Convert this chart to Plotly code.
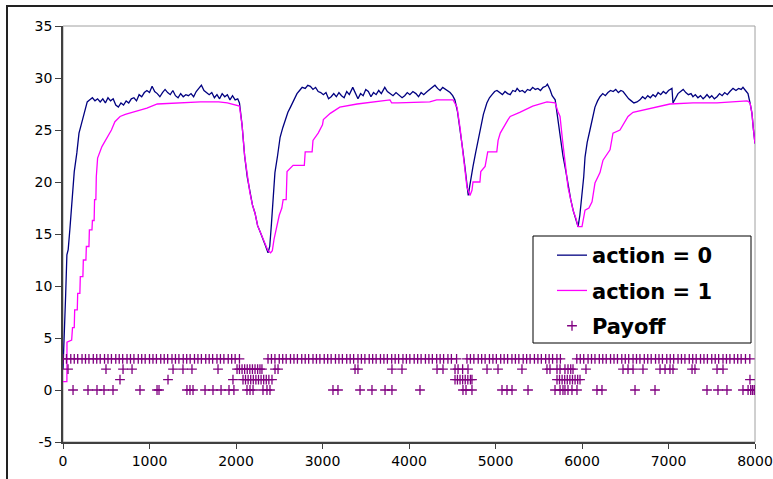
import plotly.graph_objects as go

# ---------------- data ----------------
act0_x = [0, 15, 30, 45, 60, 80, 100, 115, 130, 160, 185, 210, 235, 255, 280, 310, 340, 370, 400, 430, 460, 490,
          520, 550, 580, 610, 640, 670, 700, 730, 760, 790, 820, 850, 880, 910, 940, 970, 1000, 1030, 1060, 1090,
          1120, 1150, 1180, 1210, 1240, 1270, 1300, 1330, 1360, 1390, 1420, 1450, 1480, 1510, 1540, 1570, 1600,
          1630, 1660, 1690, 1720, 1750, 1780, 1810, 1840, 1870, 1900, 1930, 1960, 1990, 2020, 2040,
          2070, 2100, 2130, 2160, 2190, 2220, 2250, 2280, 2310, 2340, 2370, 2390, 2410, 2430, 2450, 2480, 2510,
          2540, 2570, 2600, 2630, 2670, 2705, 2735, 2765, 2800, 2830, 2860, 2890, 2920, 2950, 2980, 3010, 3040,
          3070, 3100, 3130, 3160, 3190, 3220, 3250, 3280, 3310, 3350, 3380, 3410, 3440, 3470, 3500, 3530, 3560,
          3590, 3620, 3650, 3680, 3720, 3750, 3780, 3815, 3850, 3880, 3920, 3950, 3980, 4010, 4045, 4080, 4110,
          4140, 4170, 4210, 4240, 4270, 4300, 4330, 4360, 4390, 4420, 4450, 4475, 4505, 4530, 4560, 4590, 4620,
          4647, 4670, 4685, 4700, 4720, 4740, 4770, 4800, 4830, 4860, 4900, 4930, 4960, 4990, 5017, 5050, 5080,
          5110, 5140, 5170, 5200, 5230, 5250, 5280, 5310, 5340, 5370, 5400, 5430, 5460, 5490, 5520, 5550, 5580,
          5600, 5630, 5655, 5690, 5720, 5750, 5780, 5810, 5840, 5870, 5900, 5930, 5955, 5975, 6000, 6020, 6035,
          6060, 6092, 6120, 6150, 6180, 6208, 6240, 6270, 6300, 6330, 6360, 6390, 6420, 6450, 6475, 6510, 6540,
          6570, 6600, 6636, 6670, 6700, 6730, 6760, 6790, 6821, 6850, 6880, 6910, 6940, 6970, 7000, 7040, 7052,
          7080, 7110, 7140, 7170, 7200, 7230, 7260, 7283, 7310, 7340, 7370, 7400, 7425, 7445, 7475, 7500, 7530,
          7561, 7590, 7620, 7650, 7680, 7710, 7746, 7780, 7810, 7840, 7861, 7890, 7919, 7945, 7965, 7980, 8000]
act0_y = [2.0, 5.0, 9.0, 13.0, 13.5, 15.5, 17.5, 19.0, 21.0, 22.8, 24.7, 25.5, 26.3, 27.0, 27.7, 27.9, 28.1, 27.8,
          28.0, 27.7, 28.0, 27.6, 28.1, 27.8, 28.0, 27.4, 27.2, 27.6, 27.4, 27.8, 27.6, 28.0, 28.1, 27.8, 28.4,
          28.2, 28.6, 28.8, 28.6, 29.2, 28.7, 28.5, 28.2, 28.6, 28.9, 28.6, 28.4, 28.8, 28.3, 28.1, 28.5, 28.2,
          28.4, 28.3, 28.5, 28.2, 28.7, 29.0, 29.3, 28.8, 28.6, 28.4, 28.6, 28.1, 28.4, 28.0, 28.5, 28.2, 28.4,
          27.9, 28.3, 27.9, 28.0, 27.6,
          25.5, 22.5, 20.5, 19.0, 17.8, 17.0, 15.8, 15.2, 14.6, 13.9, 13.2, 13.8, 16.0, 18.3, 20.9, 22.5, 24.3,
          25.2, 26.0, 26.7, 27.2, 27.9, 28.5, 28.8, 29.1, 29.0, 29.3, 29.2, 28.9, 29.1, 28.7, 28.6, 28.4, 28.6,
          28.0, 28.2, 28.5, 28.2, 28.6, 28.3, 28.1, 28.7, 28.4, 29.1, 28.6, 28.0, 28.5, 28.3, 28.9, 28.7, 28.2,
          28.6, 28.4, 28.8, 28.5, 29.1, 28.7, 28.5, 28.3, 28.6, 28.4, 28.1, 28.3, 28.6, 28.4, 28.7, 28.5, 28.2,
          28.6, 28.4, 28.7, 28.9, 29.1, 29.3, 29.0, 28.8, 29.1, 28.9, 28.7, 28.6, 28.3, 27.9, 26.8, 25.2, 23.2,
          21.4, 19.5, 18.7, 19.5, 20.6, 21.5, 22.8, 24.0, 25.2, 26.5, 27.6, 28.1, 28.4, 28.7, 28.8, 28.6, 28.4,
          28.7, 28.5, 28.4, 28.8, 28.7, 29.0, 28.7, 28.8, 28.6, 28.9, 28.8, 29.1, 28.9, 29.0, 28.8, 29.1, 29.2,
          29.4, 28.9, 28.3, 27.9, 26.0, 24.0, 22.5, 21.2, 19.5, 18.3, 17.2, 16.4, 15.7, 16.8, 18.6, 20.5, 22.4,
          23.8, 25.0, 26.2, 27.2, 27.8, 28.2, 28.5, 28.3, 28.6, 28.8, 28.7, 28.9, 28.6, 28.8, 28.7, 28.3, 28.0,
          27.8, 27.6, 27.7, 27.9, 28.2, 28.0, 28.3, 28.1, 28.4, 28.2, 28.6, 28.4, 28.7, 28.5, 28.8, 29.0, 27.6,
          28.1, 28.5, 28.7, 28.9, 28.6, 28.4, 28.5, 28.2, 28.4, 28.1, 28.3, 28.0, 28.2, 28.4, 28.1, 28.3, 28.0,
          28.2, 28.5, 28.3, 28.6, 28.4, 28.7, 29.0, 28.8, 29.0, 28.9, 29.1, 28.8, 28.5, 27.5, 26.6, 25.2, 23.7]

act1_x = [0, 45, 46, 100, 110, 130, 135, 165, 170, 195, 200, 230, 235, 265, 270, 300, 305, 335, 340, 360, 365, 380,
          385, 400, 450, 510, 560, 600, 660, 720, 810, 900, 970, 1090, 1320, 1590, 1800, 1900, 2040,
          2070, 2100, 2130, 2160, 2190, 2220, 2250, 2280, 2310, 2340, 2370, 2400, 2420, 2440, 2470, 2500, 2530,
          2545, 2580, 2590, 2660, 2790, 2800, 2880, 2890, 2950, 3000, 3010, 3090, 3200, 3400, 3780, 3800, 3870,
          4240, 4320, 4510, 4555, 4590, 4620, 4647, 4670, 4705, 4728, 4740, 4820, 4830, 4880, 4910, 5015, 5030,
          5055, 5145, 5170, 5280, 5430, 5595, 5690, 5720, 5746, 5775, 5803, 5838, 5896, 5930, 5954, 6000, 6035,
          6080, 6116, 6150, 6208, 6243, 6324, 6358, 6439, 6532, 6590, 6786, 7017, 7283, 7561, 7908, 7930, 7945,
          7965, 7980, 8000]
act1_y = [0.8, 0.8, 4.6, 4.8, 6.0, 6.0, 7.7, 7.7, 9.3, 9.3, 10.9, 10.9, 12.5, 12.5, 13.8, 13.8, 15.4, 15.4, 16.3,
          16.3, 18.3, 18.3, 20.5, 22.3, 23.4, 24.3, 25.0, 25.8, 26.3, 26.5, 26.7, 26.9, 27.1, 27.5, 27.6, 27.7,
          27.7, 27.6, 27.3,
          25.5, 22.5, 20.5, 19.0, 17.8, 17.0, 15.8, 15.2, 14.6, 13.9, 13.4, 13.2, 13.4, 14.5, 15.5, 16.8, 17.5,
          18.3, 18.3, 21.0, 21.6, 21.6, 22.9, 22.9, 24.0, 24.7, 25.5, 26.0, 26.6, 27.2, 27.5, 27.9, 27.6, 27.6,
          27.7, 27.9, 27.9, 27.2, 25.2, 23.2, 21.4, 19.5, 18.7, 19.2, 20.0, 20.0, 21.0, 21.5, 22.9, 22.9, 24.0,
          24.7, 26.0, 26.3, 26.7, 27.3, 27.7, 27.6, 26.8, 26.3, 24.0, 21.8, 19.5, 17.3, 16.5, 15.7, 15.7, 17.3,
          17.5, 18.1, 19.9, 20.9, 22.1, 23.1, 24.7, 25.0, 26.3, 26.7, 27.1, 27.5, 27.6, 27.6, 27.8, 27.7, 27.5,
          26.6, 25.2, 23.7]

payoff3_x = [0, 40, 90, 130, 170, 220, 260, 300, 350, 390, 430, 480, 520, 560, 610, 650, 690, 740, 780, 820, 870,
             910, 950, 1000, 1040, 1080, 1130, 1170, 1210, 1260, 1300, 1340, 1390, 1430, 1470, 1520, 1560, 1600,
             1650, 1690, 1730, 1780, 1820, 1860, 1910, 1950, 1990, 2040,
             2370, 2410, 2450, 2500, 2540, 2580, 2630, 2670, 2710, 2760, 2800, 2840, 2890, 2930, 2970, 3020, 3060,
             3100, 3150, 3190, 3230, 3280, 3320, 3360, 3410, 3450, 3490, 3540, 3580, 3620, 3670, 3710, 3750, 3800,
             3840, 3880, 3930, 3970, 4010, 4060, 4100, 4140, 4190, 4230, 4270, 4320, 4360, 4400, 4450, 4490, 4550,
             4670, 4710, 4750, 4800, 4840, 4880, 4930, 4970, 5010, 5060, 5100, 5140, 5190, 5230, 5270, 5320, 5360,
             5400, 5450, 5490, 5530, 5580, 5620, 5660, 5710, 5750,
             5940, 5980, 6020, 6070, 6110, 6150, 6200, 6240, 6280, 6330, 6370, 6410, 6460, 6500, 6540, 6590, 6630,
             6670, 6720, 6760, 6800, 6850, 6890, 6930, 6980, 7020, 7060, 7110, 7150, 7190, 7240, 7280, 7320, 7370,
             7410, 7450, 7500, 7540, 7580, 7630, 7670, 7710, 7760, 7800, 7840, 7890, 7940]
payoff2_x = [58, 497, 694, 798, 1272, 1387, 1491, 1792, 2012, 2040, 2070, 2100, 2130, 2160, 2190, 2220, 2250, 2277,
             2300, 2451, 2486, 3376, 3410, 3803, 3919, 4324, 4393, 4532, 4567, 4620, 4682, 4902, 5029, 5306, 5595,
             5630, 5711, 5746, 5803, 5838, 5870, 5896, 6046, 6474, 6532, 6590, 6705, 6902, 6960, 7017, 7052, 7272,
             7306, 7561, 7630]
payoff1_x = [659, 1214, 1965, 2081, 2110, 2140, 2170, 2200, 2230, 2260, 2290, 2320, 2350, 2380, 2416, 4532, 4560,
             4590, 4620, 4650, 4680, 4710, 4728, 5711, 5740, 5770, 5800, 5830, 5860, 5890, 5920, 5950, 5977, 7942]
payoff0_x = [116, 289, 393, 474, 578, 890, 1087, 1110, 1433, 1468, 1503, 1642, 1734, 1827, 1919, 1976, 2127, 2162,
             2197, 2312, 2358, 2393, 3121, 3179, 3434, 3572, 3723, 3803, 4127, 4624, 4659, 4728, 5075, 5133, 5191,
             5376, 5688, 5746, 5780, 5803, 5838, 5884, 5942, 6173, 6231, 6613, 6844, 7445, 7572, 7676, 7861, 7920,
             7950, 7970, 7990, 8000]
payoff_levels = [3, 2, 1, 0]

x_ticks = [0, 1000, 2000, 3000, 4000, 5000, 6000, 7000, 8000]
y_ticks = [-5, 0, 5, 10, 15, 20, 25, 30, 35]

payoff_x = payoff3_x + payoff2_x + payoff1_x + payoff0_x
payoff_y = ([payoff_levels[0]] * len(payoff3_x) + [payoff_levels[1]] * len(payoff2_x)
            + [payoff_levels[2]] * len(payoff1_x) + [payoff_levels[3]] * len(payoff0_x))

# ---------------- figure ----------------
W, H = 773, 479
L, R, T, B = 63, 18, 26, 37
pw, ph = W - L - R, H - T - B

def px(xp):
    return (xp - L) / pw

def py(yp):
    return (H - B - yp) / ph

fig = go.Figure()
fig.add_trace(go.Scatter(x=act0_x, y=act0_y, mode="lines", name="<b>action = 0</b>", legendgroup="a",
                         line=dict(color="#000080", width=1.3)))
fig.add_trace(go.Scatter(x=act1_x, y=act1_y, mode="lines", name="<b>action = 1</b>", legendgroup="b",
                         line=dict(color="#FF00FF", width=1.3)))
fig.add_trace(go.Scatter(x=payoff_x, y=payoff_y, mode="markers", name="<b>Payoff</b>", legendgroup="c",
                         marker=dict(symbol="cross-thin", size=7, color="#800080",
                                     line=dict(color="#800080", width=1.3))))

font_family = "DejaVu Sans, Liberation Sans, Arial"

shapes = [
    # outer chart frame (continues past the window)
    dict(type="rect", xref="paper", yref="paper", x0=px(7), x1=px(800), y0=py(520), y1=py(6),
         line=dict(color="#222222", width=2), fillcolor="rgba(0,0,0,0)", layer="below"),
    # plot area border
    dict(type="rect", xref="paper", yref="paper", x0=0, x1=1, y0=0, y1=1,
         line=dict(color="#a0a0a0", width=1), fillcolor="rgba(0,0,0,0)", layer="below"),
    # legend box
    dict(type="rect", xref="paper", yref="paper", x0=px(533), x1=px(751), y0=py(343), y1=py(236),
         line=dict(color="#000000", width=1), fillcolor="white", layer="above"),
]

fig.update_layout(
    width=W, height=H,
    margin=dict(l=L, r=R, t=T, b=B, autoexpand=False),
    paper_bgcolor="white", plot_bgcolor="white",
    font=dict(family=font_family, color="black"),
    showlegend=True,
    legend=dict(x=px(552), y=py(235), xanchor="left", yanchor="top",
                bgcolor="rgba(0,0,0,0)", borderwidth=0, tracegroupgap=5,
                font=dict(family=font_family, size=21, color="black")),
    shapes=shapes,
    xaxis=dict(range=[0, 8000], tickvals=x_ticks, ticktext=[str(v) for v in x_ticks], automargin=False,
               showgrid=False, zeroline=False, showline=True, linecolor="#404040", linewidth=1.5,
               ticks="outside", ticklen=5, tickcolor="#404040", tickfont=dict(size=14), fixedrange=True),
    yaxis=dict(range=[-5, 35], tickvals=y_ticks, ticktext=[str(v) for v in y_ticks], automargin=False,
               showgrid=False, zeroline=False, showline=True, linecolor="#404040", linewidth=1.5,
               ticks="outside", ticklen=6, tickcolor="#404040", tickfont=dict(size=14), fixedrange=True),
)

fig.write_html("out.html")
